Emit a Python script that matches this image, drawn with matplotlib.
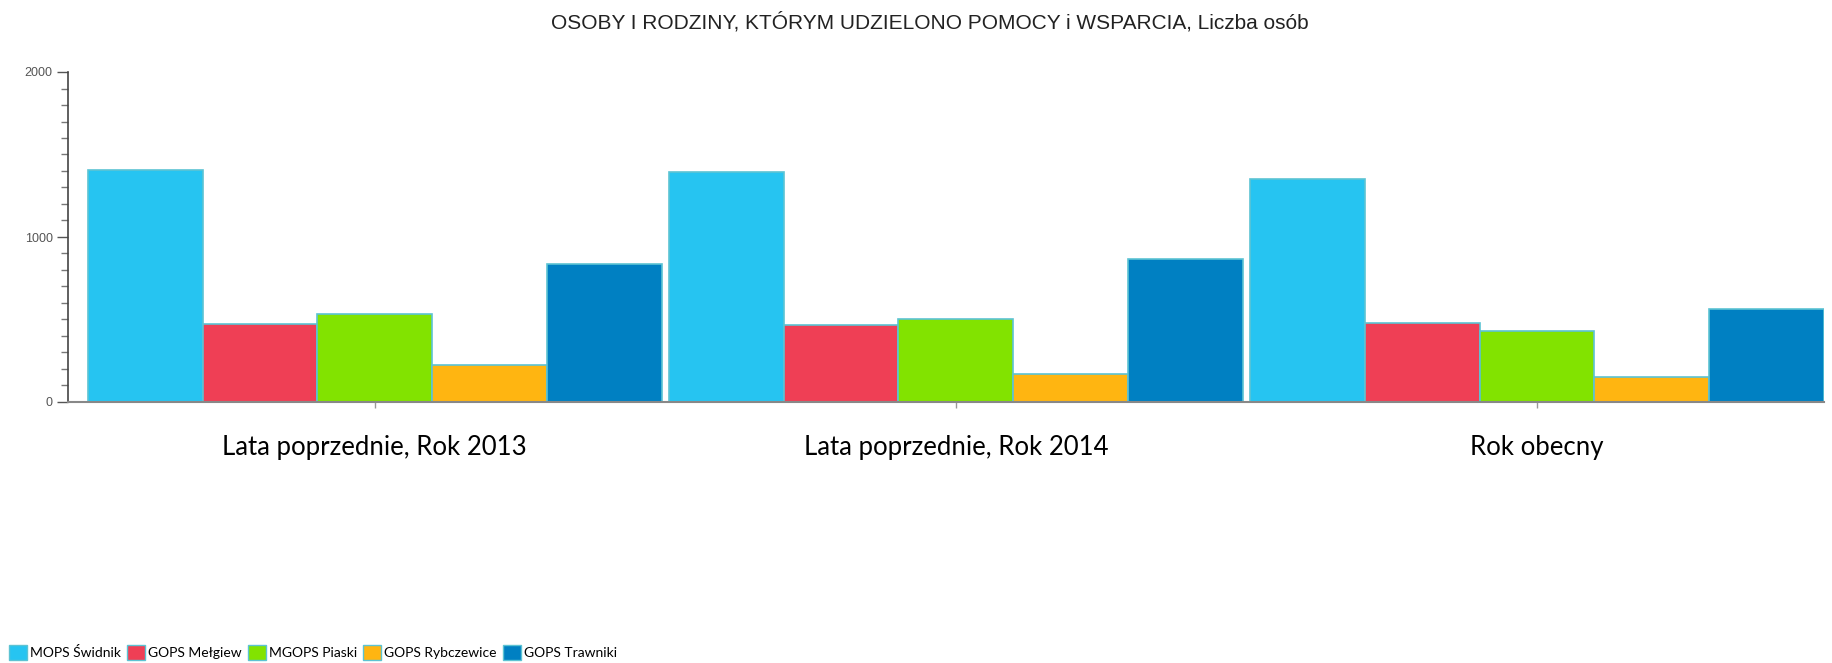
import matplotlib
matplotlib.use("Agg")
from matplotlib import pyplot as plt
from matplotlib.patches import Patch
from matplotlib.ticker import MultipleLocator
import numpy as np

categories = ["Lata poprzednie, Rok 2013", "Lata poprzednie, Rok 2014", "Rok obecny"]
series_names = ["MOPS Świdnik", "GOPS Mełgiew", "MGOPS Piaski", "GOPS Rybczewice", "GOPS Trawniki"]
mops_swidnik = [1405, 1396, 1352]
gops_melgiew = [470, 468, 481]
mgops_piaski = [533, 504, 430]
gops_rybczewice = [224, 171, 153]
gops_trawniki = [838, 865, 562]
values = [mops_swidnik, gops_melgiew, mgops_piaski, gops_rybczewice, gops_trawniki]
colors = ["#26C4F1", "#EF3F55", "#82E300", "#FFB511", "#0080C2"]

fig = plt.figure(figsize=(18.32, 6.63), dpi=100)
ax = fig.add_axes([68 / 1832, 1 - 402 / 663, 1756 / 1832, 330 / 663])

x = np.arange(len(categories))
w = 0.1975
for i, (name, vals, c) in enumerate(zip(series_names, values, colors)):
    ax.bar(x + (i - 2) * w, vals, width=w, color=c, edgecolor="#5cc3d3",
           linewidth=1.2, label=name, zorder=2)

ax.set_xlim(-0.528, 2.494)
ax.set_ylim(0, 2000)
ax.yaxis.set_major_locator(MultipleLocator(1000))
ax.yaxis.set_minor_locator(MultipleLocator(100))
ax.tick_params(axis="y", which="major", length=8, width=1, color="#555555",
               labelsize=9, labelcolor="#555555", pad=3)
ax.tick_params(axis="y", which="minor", length=5, width=1, color="#777777")
for lab in ax.get_yticklabels():
    lab.set_fontfamily("Liberation Sans")

ax.set_xticks(x)
ax.set_xticklabels(categories, fontsize=18.5, fontfamily="Lato")
ax.tick_params(axis="x", length=4, width=1, color="#999999", pad=20)

for s in ["top", "right"]:
    ax.spines[s].set_visible(False)
ax.spines["left"].set_color("#444444")
ax.spines["left"].set_linewidth(1.2)
ax.spines["bottom"].set_color("#888888")
ax.spines["bottom"].set_linewidth(1.5)

fig.text(0.5075, 1 - 22 / 663, "OSOBY I RODZINY, KTÓRYM UDZIELONO POMOCY i WSPARCIA, Liczba osób",
         ha="center", va="center", fontsize=15, fontfamily="Liberation Sans", color="#222222")

handles = [Patch(facecolor=c, edgecolor="#5cc3d3", label=n) for n, c in zip(series_names, colors)]
fig.legend(handles=handles, loc="lower left", bbox_to_anchor=(-0.001, -0.012), ncol=5,
           frameon=False, prop={"family": "Lato", "size": 10}, handlelength=1.3,
           handleheight=1.3, handletextpad=0.2, columnspacing=0.45, borderpad=0.3)

fig.savefig("out.png", dpi=100)
